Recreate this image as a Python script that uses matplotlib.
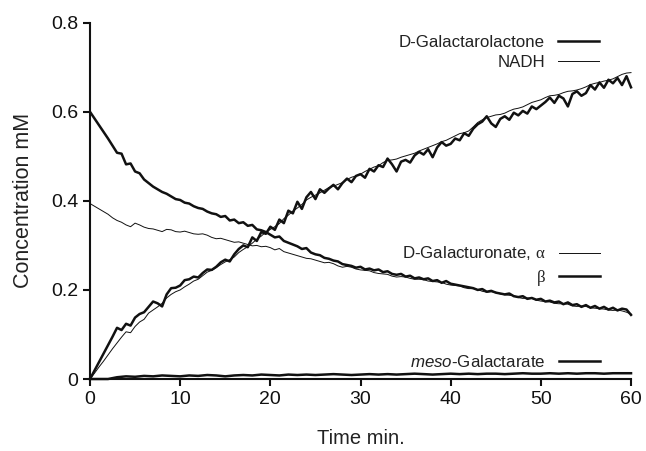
import numpy as np
import matplotlib
matplotlib.use('Agg')
import matplotlib.pyplot as plt

plt.rcParams['font.family'] = ['Liberation Sans', 'DejaVu Sans']
plt.rcParams['mathtext.fontset'] = 'custom'
plt.rcParams['mathtext.rm'] = 'Liberation Serif'
plt.rcParams['mathtext.it'] = 'Liberation Sans:italic'

# sampling every half minute
time_half = [i * 0.5 for i in range(121)]
time_min = list(range(0, 61))

# D-Galactarolactone (thick, rising)
lactone = [0.000, 0.019, 0.038, 0.057, 0.076, 0.095, 0.115, 0.110, 0.124, 0.120,
           0.138, 0.146, 0.150, 0.162, 0.174, 0.170, 0.163, 0.190, 0.204, 0.205,
           0.210, 0.222, 0.224, 0.230, 0.228, 0.238, 0.246, 0.245, 0.252, 0.262,
           0.268, 0.264, 0.280, 0.292, 0.300, 0.296, 0.318, 0.310, 0.330, 0.326,
           0.342, 0.335, 0.358, 0.350, 0.378, 0.372, 0.398, 0.382, 0.408, 0.420,
           0.404, 0.426, 0.418, 0.428, 0.436, 0.426, 0.440, 0.450, 0.442, 0.456,
           0.460, 0.452, 0.472, 0.466, 0.480, 0.476, 0.495, 0.482, 0.466, 0.488,
           0.492, 0.486, 0.502, 0.510, 0.504, 0.516, 0.498, 0.520, 0.532, 0.524,
           0.528, 0.540, 0.536, 0.552, 0.546, 0.562, 0.572, 0.578, 0.590, 0.574,
           0.566, 0.584, 0.590, 0.582, 0.598, 0.592, 0.602, 0.596, 0.612, 0.606,
           0.614, 0.622, 0.632, 0.620, 0.636, 0.630, 0.612, 0.640, 0.646, 0.636,
           0.642, 0.660, 0.650, 0.666, 0.654, 0.672, 0.664, 0.676, 0.660, 0.680,
           0.655]

# NADH (thin, rising)
nadh = [0.000, 0.013, 0.027, 0.040, 0.054, 0.068, 0.081, 0.094, 0.106, 0.104,
        0.118, 0.128, 0.134, 0.148, 0.155, 0.162, 0.170, 0.182, 0.190, 0.196,
        0.200, 0.207, 0.213, 0.220, 0.224, 0.232, 0.240, 0.244, 0.250, 0.257,
        0.263, 0.268, 0.274, 0.284, 0.291, 0.297, 0.305, 0.314, 0.321, 0.330,
        0.336, 0.342, 0.349, 0.360, 0.368, 0.377, 0.384, 0.392, 0.402, 0.408,
        0.413, 0.418, 0.424, 0.430, 0.433, 0.437, 0.441, 0.448, 0.453, 0.456,
        0.460, 0.466, 0.471, 0.476, 0.479, 0.486, 0.491, 0.492, 0.494, 0.498,
        0.501, 0.504, 0.507, 0.512, 0.516, 0.520, 0.524, 0.528, 0.533, 0.536,
        0.541, 0.546, 0.551, 0.553, 0.557, 0.566, 0.576, 0.582, 0.587, 0.590,
        0.593, 0.594, 0.597, 0.602, 0.606, 0.608, 0.611, 0.616, 0.621, 0.624,
        0.627, 0.632, 0.636, 0.637, 0.639, 0.643, 0.646, 0.647, 0.649, 0.652,
        0.656, 0.661, 0.664, 0.666, 0.669, 0.671, 0.674, 0.679, 0.684, 0.687,
        0.688]

# D-Galacturonate alpha (thin, falling)
alpha = [0.394, 0.388, 0.382, 0.376, 0.370, 0.362, 0.356, 0.352, 0.346, 0.342,
         0.350, 0.346, 0.341, 0.338, 0.337, 0.334, 0.331, 0.336, 0.335, 0.331,
         0.330, 0.332, 0.329, 0.326, 0.325, 0.326, 0.323, 0.318, 0.315, 0.316,
         0.313, 0.310, 0.307, 0.308, 0.305, 0.302, 0.299, 0.300, 0.297, 0.298,
         0.295, 0.290, 0.293, 0.286, 0.283, 0.280, 0.277, 0.274, 0.271, 0.270,
         0.267, 0.264, 0.261, 0.262, 0.259, 0.254, 0.251, 0.253, 0.251, 0.247,
         0.245, 0.244, 0.243, 0.239, 0.237, 0.236, 0.235, 0.231, 0.229, 0.230,
         0.229, 0.226, 0.224, 0.224, 0.223, 0.220, 0.219, 0.218, 0.217, 0.213,
         0.211, 0.210, 0.209, 0.205, 0.203, 0.203, 0.201, 0.197, 0.195, 0.196,
         0.195, 0.191, 0.189, 0.188, 0.187, 0.183, 0.181, 0.182, 0.181, 0.177,
         0.175, 0.174, 0.173, 0.170, 0.169, 0.169, 0.168, 0.164, 0.163, 0.164,
         0.163, 0.160, 0.159, 0.158, 0.157, 0.155, 0.154, 0.155, 0.153, 0.150,
         0.146]

# D-Galacturonate beta (thick, falling)
beta = [0.600, 0.585, 0.570, 0.555, 0.540, 0.524, 0.508, 0.506, 0.482, 0.484,
        0.466, 0.462, 0.448, 0.440, 0.432, 0.426, 0.420, 0.416, 0.410, 0.404,
        0.402, 0.396, 0.394, 0.388, 0.384, 0.382, 0.376, 0.372, 0.370, 0.364,
        0.366, 0.356, 0.358, 0.350, 0.352, 0.344, 0.346, 0.336, 0.334, 0.330,
        0.324, 0.318, 0.320, 0.310, 0.306, 0.302, 0.298, 0.292, 0.294, 0.284,
        0.280, 0.278, 0.272, 0.270, 0.266, 0.264, 0.258, 0.256, 0.254, 0.250,
        0.252, 0.246, 0.248, 0.244, 0.246, 0.240, 0.242, 0.236, 0.234, 0.236,
        0.230, 0.232, 0.226, 0.228, 0.224, 0.226, 0.220, 0.222, 0.216, 0.220,
        0.214, 0.212, 0.210, 0.208, 0.206, 0.204, 0.200, 0.202, 0.196, 0.198,
        0.194, 0.192, 0.190, 0.192, 0.186, 0.184, 0.186, 0.180, 0.182, 0.178,
        0.180, 0.174, 0.176, 0.172, 0.174, 0.168, 0.172, 0.166, 0.168, 0.162,
        0.166, 0.160, 0.164, 0.158, 0.162, 0.156, 0.160, 0.154, 0.158, 0.156,
        0.144]

# meso-Galactarate (thick, near zero), one value per minute
meso = [0.000, 0.000, 0.000, 0.004, 0.006, 0.005, 0.007, 0.006, 0.008, 0.007,
        0.006, 0.008, 0.007, 0.009, 0.008, 0.006, 0.008, 0.009, 0.008, 0.010,
        0.009, 0.008, 0.010, 0.009, 0.010, 0.009, 0.010, 0.011, 0.010, 0.009,
        0.010, 0.011, 0.010, 0.011, 0.010, 0.011, 0.012, 0.011, 0.010, 0.011,
        0.012, 0.011, 0.012, 0.011, 0.012, 0.012, 0.011, 0.012, 0.013, 0.012,
        0.012, 0.013, 0.012, 0.013, 0.012, 0.013, 0.013, 0.012, 0.013, 0.013,
        0.013]

x_ticks = [0, 10, 20, 30, 40, 50, 60]
y_ticks = [0, 0.2, 0.4, 0.6, 0.8]
y_tick_labels = ['0', '0.2', '0.4', '0.6', '0.8']

fig = plt.figure(figsize=(6.46, 4.51), dpi=100)
ax = fig.add_axes([0.1393, 0.1596, 0.8375, 0.790])

col = '#111111'
thick = 1.8
thin = 0.7

l_lac, = ax.plot(time_half, lactone, color=col, lw=thick, clip_on=False,
                 label='D-Galactarolactone')
l_nadh, = ax.plot(time_half, nadh, color=col, lw=thin, clip_on=False, label='NADH')
l_alpha, = ax.plot(time_half, alpha, color=col, lw=thin, clip_on=False,
                   label=r'D-Galacturonate, $\mathrm{\alpha}$')
l_beta, = ax.plot(time_half, beta, color=col, lw=thick, clip_on=False,
                  label=r'$\mathrm{\beta}$')
l_meso, = ax.plot(time_min, meso, color=col, lw=thick, clip_on=False,
                  label=r'$\mathit{meso}$-Galactarate')

ax.set_xlim(0, 60)
ax.set_ylim(0, 0.8)
ax.set_xticks(x_ticks)
ax.set_yticks(y_ticks)
ax.set_yticklabels(y_tick_labels)
ax.tick_params(direction='out', length=5, width=1.5, labelsize=14, colors=col)
for s in ['top', 'right']:
    ax.spines[s].set_visible(False)
for s in ['left', 'bottom']:
    ax.spines[s].set_linewidth(1.5)
    ax.spines[s].set_color(col)

ax.set_xlabel('Time min.', fontsize=14.5, labelpad=15, color='#222222')
ax.set_ylabel('Concentration mM', fontsize=15.5, labelpad=12, color='#222222')

leg_kw = dict(frameon=False, markerfirst=False, borderpad=0, borderaxespad=0,
              handlelength=2.4, handletextpad=0.8, labelspacing=0.3,
              fontsize=12.2, loc='center right', bbox_transform=fig.transFigure)

leg1 = ax.legend(handles=[l_lac, l_nadh], bbox_to_anchor=(599 / 646, 1 - 52.5 / 451), **leg_kw)
ax.add_artist(leg1)
leg2 = ax.legend(handles=[l_alpha, l_beta], bbox_to_anchor=(600 / 646, 1 - 266 / 451), **leg_kw)
ax.add_artist(leg2)
leg3 = ax.legend(handles=[l_meso], bbox_to_anchor=(600 / 646, 1 - 362 / 451), **leg_kw)
for lg in (leg1, leg2, leg3):
    for t in lg.get_texts():
        t.set_color('#222222')

fig.savefig('out.png', dpi=100)
